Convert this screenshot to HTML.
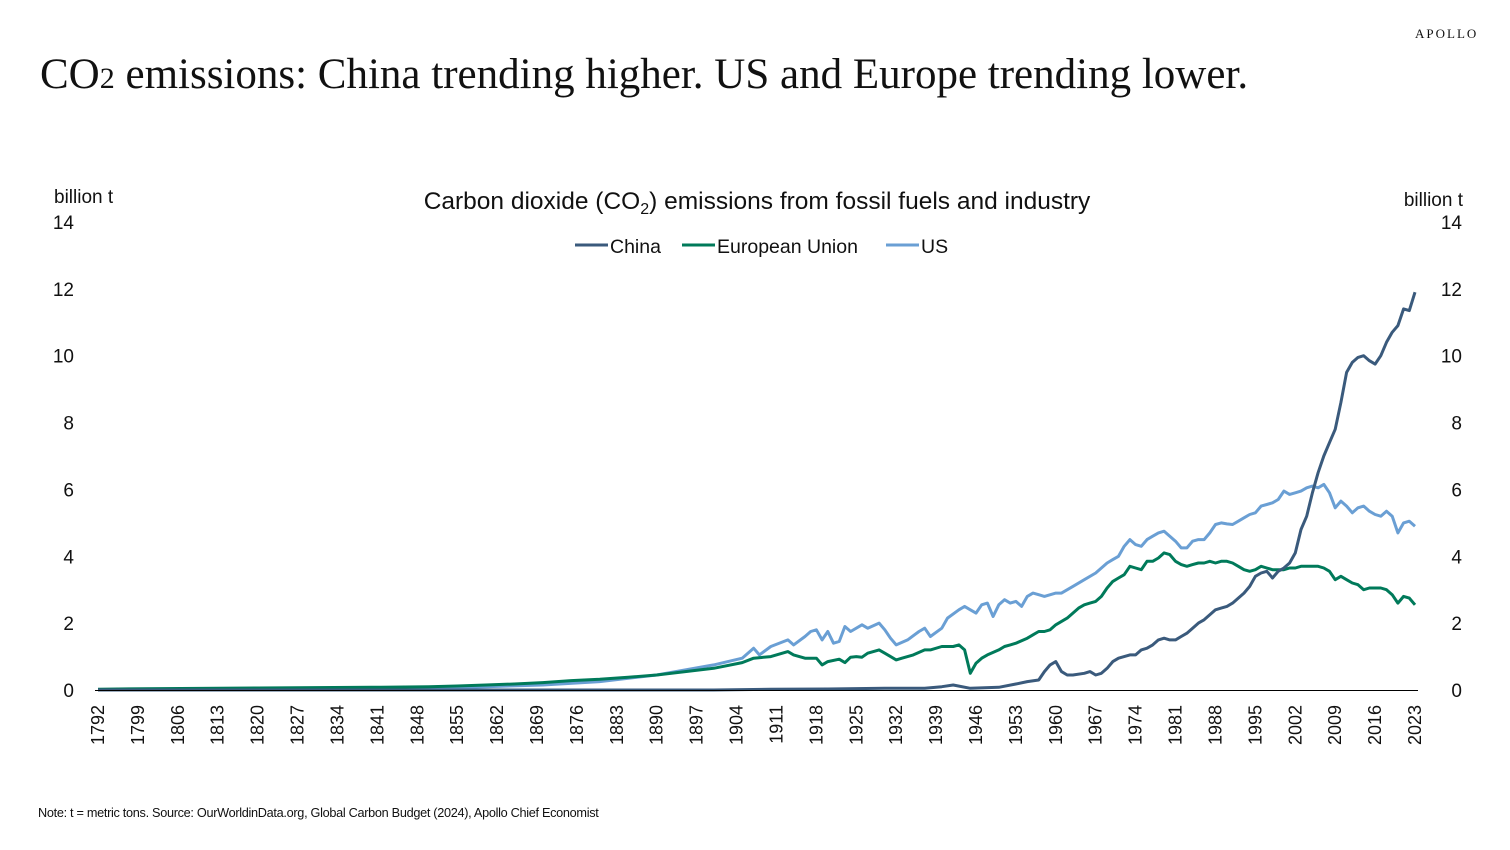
<!DOCTYPE html>
<html><head><meta charset="utf-8"><style>
body{margin:0;width:1510px;height:845px;background:#fff;overflow:hidden;font-family:"Liberation Sans",sans-serif;}
svg text{font-family:"Liberation Sans",sans-serif;fill:#111;}
</style></head><body>
<svg id="chart" width="1510" height="845">
<text x="1415" y="38" font-size="13" letter-spacing="2" style="font-family:'Liberation Serif',serif">APOLLO</text>
<text x="40" y="88" font-size="43" style="font-family:'Liberation Serif',serif">CO<tspan font-size="30">2</tspan> emissions: China trending higher. US and Europe trending lower.</text>
<text x="757" y="209" font-size="24.5" text-anchor="middle">Carbon dioxide (CO<tspan font-size="16" dy="5">2</tspan><tspan dy="-5">) emissions from fossil fuels and industry</tspan></text>
<text x="54" y="203" font-size="19">billion t</text>
<text x="1463" y="206" font-size="19" text-anchor="end">billion t</text>
<g>
<line x1="575" y1="245" x2="608" y2="245" stroke="#3a5a7c" stroke-width="3"/><text x="610" y="253" font-size="19.5">China</text>
<line x1="682" y1="245" x2="715" y2="245" stroke="#007a5a" stroke-width="3"/><text x="717" y="253" font-size="19.5">European Union</text>
<line x1="886" y1="245" x2="919" y2="245" stroke="#6a9fd4" stroke-width="3"/><text x="921" y="253" font-size="19.5">US</text>
</g>
<g id="axes"></g>
<g id="series"></g>
<line x1="95" y1="690.5" x2="1418" y2="690.5" stroke="#000" stroke-width="1"/>
<text x="38" y="817" font-size="12.7" style="letter-spacing:-0.3px">Note: t = metric tons. Source: OurWorldinData.org, Global Carbon Budget (2024), Apollo Chief Economist</text>
</svg>
<script>
const yTicks=[0,2,4,6,8,10,12,14];
const xTickYears=[];for(let y=1792;y<=2023;y+=7)xTickYears.push(y);
const usYears=[1792,1820,1840,1850,1860,1870,1880,1890,1900,1905,1907,1908,1910,1913,1914,1916,1917,1918,1919,1920,1921,1922,1923,1924,1926,1927,1929,1930,1931,1932,1934,1936,1937,1938,1940,1941,1943,1944,1945,1946,1947,1948,1949,1950,1951,1952,1953,1954,1955,1956,1957,1958,1960,1961,1963,1965,1967,1969,1970,1971,1972,1973,1974,1975,1976,1977,1978,1979,1980,1981,1982,1983,1984,1985,1986,1987,1988,1989,1990,1991,1992,1993,1994,1995,1996,1997,1998,1999,2000,2001,2002,2003,2004,2005,2006,2007,2008,2009,2010,2011,2012,2013,2014,2015,2016,2017,2018,2019,2020,2021,2022,2023];
const usValues=[0.0,0.01,0.02,0.05,0.1,0.15,0.25,0.45,0.75,0.95,1.25,1.05,1.3,1.5,1.35,1.6,1.75,1.8,1.5,1.75,1.4,1.45,1.9,1.75,1.95,1.85,2.0,1.8,1.55,1.35,1.5,1.75,1.85,1.6,1.85,2.15,2.4,2.5,2.4,2.3,2.55,2.6,2.2,2.55,2.7,2.6,2.65,2.5,2.8,2.9,2.85,2.8,2.9,2.9,3.1,3.3,3.5,3.8,3.9,4.0,4.3,4.5,4.35,4.3,4.5,4.6,4.7,4.75,4.6,4.45,4.25,4.25,4.45,4.5,4.5,4.7,4.95,5.0,4.97,4.95,5.05,5.15,5.25,5.3,5.5,5.55,5.6,5.7,5.95,5.85,5.9,5.95,6.05,6.1,6.05,6.15,5.9,5.45,5.65,5.5,5.3,5.45,5.5,5.35,5.25,5.2,5.35,5.2,4.7,5.0,5.05,4.9];
const euYears=[1792,1800,1820,1840,1850,1855,1860,1865,1870,1875,1880,1885,1890,1895,1900,1905,1907,1910,1913,1914,1916,1918,1919,1920,1922,1923,1924,1925,1926,1927,1929,1930,1932,1933,1935,1937,1938,1940,1942,1943,1944,1945,1946,1947,1948,1950,1951,1952,1953,1955,1956,1957,1958,1959,1960,1962,1963,1964,1965,1966,1967,1968,1969,1970,1971,1972,1973,1974,1975,1976,1977,1978,1979,1980,1981,1982,1983,1984,1985,1986,1987,1988,1989,1990,1991,1992,1993,1994,1995,1996,1997,1998,1999,2000,2001,2002,2003,2004,2005,2006,2007,2008,2009,2010,2011,2012,2013,2014,2015,2016,2017,2018,2019,2020,2021,2022,2023];
const euValues=[0.02,0.04,0.06,0.08,0.1,0.12,0.15,0.18,0.22,0.28,0.32,0.38,0.45,0.55,0.65,0.82,0.95,1.0,1.15,1.05,0.95,0.95,0.75,0.85,0.92,0.82,0.98,1.0,0.98,1.1,1.2,1.1,0.9,0.95,1.05,1.2,1.2,1.3,1.3,1.35,1.2,0.5,0.8,0.95,1.05,1.2,1.3,1.35,1.4,1.55,1.65,1.75,1.75,1.8,1.95,2.15,2.3,2.45,2.55,2.6,2.65,2.8,3.05,3.25,3.35,3.45,3.7,3.65,3.6,3.85,3.85,3.95,4.1,4.05,3.85,3.75,3.7,3.75,3.8,3.8,3.85,3.8,3.85,3.85,3.8,3.7,3.6,3.55,3.6,3.7,3.65,3.6,3.6,3.6,3.65,3.65,3.7,3.7,3.7,3.7,3.65,3.55,3.3,3.4,3.3,3.2,3.15,3.0,3.05,3.05,3.05,3.0,2.85,2.6,2.8,2.75,2.55];
const cnYears=[1792,1900,1910,1920,1930,1937,1940,1942,1945,1950,1953,1955,1957,1958,1959,1960,1961,1962,1963,1965,1966,1967,1968,1969,1970,1971,1972,1973,1974,1975,1976,1977,1978,1979,1980,1981,1982,1983,1984,1985,1986,1987,1988,1989,1990,1991,1992,1993,1994,1995,1996,1997,1998,1999,2000,2001,2002,2003,2004,2005,2006,2007,2008,2009,2010,2011,2012,2013,2014,2015,2016,2017,2018,2019,2020,2021,2022,2023];
const cnValues=[0.0,0.0,0.02,0.03,0.05,0.05,0.1,0.15,0.05,0.08,0.18,0.25,0.3,0.55,0.75,0.85,0.55,0.45,0.45,0.5,0.55,0.45,0.5,0.65,0.85,0.95,1.0,1.05,1.05,1.2,1.25,1.35,1.5,1.55,1.5,1.5,1.6,1.7,1.85,2.0,2.1,2.25,2.4,2.45,2.5,2.6,2.75,2.9,3.1,3.4,3.5,3.55,3.35,3.55,3.65,3.8,4.1,4.8,5.2,5.9,6.5,7.0,7.4,7.8,8.6,9.5,9.8,9.95,10.0,9.85,9.75,10.0,10.4,10.7,10.9,11.4,11.35,11.9];

const x0=98,x1=1415,yr0=1792,yr1=2023,py0=690,py14=222;
const xs=y=>x0+(y-yr0)*(x1-x0)/(yr1-yr0);
const ys=v=>py0-v*(py0-py14)/14;
const NS='http://www.w3.org/2000/svg';
const axes=document.getElementById('axes'),ser=document.getElementById('series');
function txt(x,y,s,anchor,size){const t=document.createElementNS(NS,'text');t.setAttribute('x',x);t.setAttribute('y',y);t.setAttribute('font-size',size);t.setAttribute('text-anchor',anchor);t.textContent=s;return t;}
yTicks.forEach(v=>{
 const l=txt(74,ys(v)+7,String(v),'end',19);
 
 
 axes.appendChild(l);
 const r=txt(1462,ys(v)+7,String(v),'end',19);
 
 
 axes.appendChild(r);
});
xTickYears.forEach(y=>{
 const t=txt(0,0,String(y),'end',18);
 t.setAttribute('transform','translate('+(xs(y)+6)+',705) rotate(-90)');
 
 
 axes.appendChild(t);
});
function line(years,vals,color,name){
 const p=document.createElementNS(NS,'polyline');
 p.setAttribute('points',years.map((y,i)=>xs(y).toFixed(1)+','+ys(vals[i]).toFixed(1)).join(' '));
 p.setAttribute('fill','none');p.setAttribute('stroke',color);p.setAttribute('stroke-width','3');p.setAttribute('stroke-linejoin','round');
 
 
 ser.appendChild(p);
}
line(usYears,usValues,'#6a9fd4','us-line');
line(euYears,euValues,'#007a5a','eu-line');
line(cnYears,cnValues,'#3a5a7c','china-line');
</script>
</body></html>
